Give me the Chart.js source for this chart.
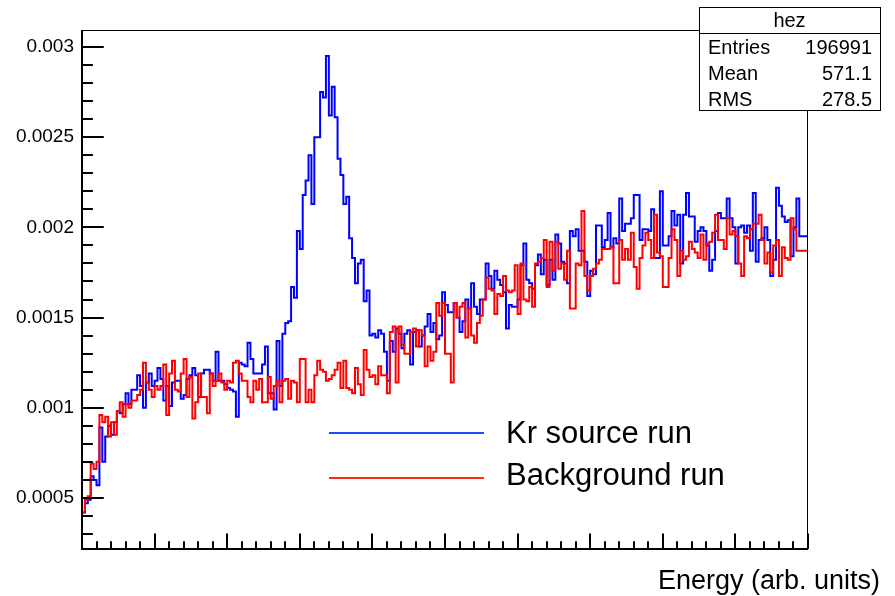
<!DOCTYPE html>
<html>
<head>
<meta charset="utf-8">
<title>hez</title>
<script src="https://cdn.jsdelivr.net/npm/chart.js@4.4.0/dist/chart.umd.min.js"></script>
<style>
  html, body { margin: 0; padding: 0; background: #fff; }
  #wrap { width: 895px; height: 596px; }
</style>
</head>
<body>
<div id="wrap"><canvas id="hezChart" width="895" height="596"></canvas></div>
<script>
// energy axis: 250 bins from 0 to 1000
const xMin = 0;
const xMax = 1000;
const xMajorStep = 100;
const xMinorStep = 20;

// normalised bin contents, Kr source run
const krSourceRun = [
  0.00034, 0.00042, 0.00047, 0.00049, 0.00062, 0.00060, 0.00057, 0.00089, 0.00070, 0.00084,
  0.00090, 0.00085, 0.00092, 0.00098, 0.00097, 0.00102, 0.00108, 0.00102, 0.00110, 0.00110,
  0.00118, 0.00112, 0.00100, 0.00114, 0.00119, 0.00112, 0.00115, 0.00122, 0.00116, 0.00104,
  0.00112, 0.00101, 0.00114, 0.00115, 0.00115, 0.00105, 0.00107, 0.00116, 0.00118, 0.00122,
  0.00118, 0.00106, 0.00119, 0.00121, 0.00121, 0.00119, 0.00115, 0.00131, 0.00115, 0.00115,
  0.00113, 0.00111, 0.00110, 0.00109, 0.00095, 0.00125, 0.00124, 0.00123, 0.00136, 0.00127,
  0.00119, 0.00119, 0.00119, 0.00124, 0.00134, 0.00108, 0.00108, 0.00099, 0.00137, 0.00112,
  0.00141, 0.00147, 0.00148, 0.00167, 0.00161, 0.00198, 0.00188, 0.00218, 0.00226, 0.00240,
  0.00213, 0.00250, 0.00250, 0.00275, 0.00272, 0.00295, 0.00262, 0.00278, 0.00261, 0.00238,
  0.00229, 0.00213, 0.00217, 0.00194, 0.00183, 0.00169, 0.00180, 0.00182, 0.00159, 0.00165,
  0.00140, 0.00141, 0.00139, 0.00143, 0.00141, 0.00131, 0.00115, 0.00137, 0.00131, 0.00144,
  0.00141, 0.00133, 0.00141, 0.00143, 0.00124, 0.00142, 0.00143, 0.00134, 0.00140, 0.00145,
  0.00152, 0.00142, 0.00147, 0.00138, 0.00140, 0.00164, 0.00157, 0.00153, 0.00153, 0.00158,
  0.00150, 0.00142, 0.00148, 0.00160, 0.00155, 0.00169, 0.00156, 0.00152, 0.00160, 0.00160,
  0.00180, 0.00173, 0.00166, 0.00176, 0.00171, 0.00168, 0.00164, 0.00144, 0.00157, 0.00156,
  0.00156, 0.00160, 0.00179, 0.00191, 0.00171, 0.00169, 0.00166, 0.00179, 0.00185, 0.00174,
  0.00182, 0.00168, 0.00182, 0.00171, 0.00196, 0.00191, 0.00181, 0.00180, 0.00169, 0.00198,
  0.00195, 0.00199, 0.00187, 0.00187, 0.00181, 0.00162, 0.00176, 0.00174, 0.00201, 0.00201,
  0.00189, 0.00193, 0.00208, 0.00189, 0.00194, 0.00191, 0.00216, 0.00198, 0.00202, 0.00202,
  0.00205, 0.00218, 0.00218, 0.00193, 0.00199, 0.00199, 0.00198, 0.00210, 0.00183, 0.00183,
  0.00220, 0.00190, 0.00190, 0.00195, 0.00209, 0.00201, 0.00207, 0.00180, 0.00207, 0.00219,
  0.00206, 0.00206, 0.00192, 0.00198, 0.00200, 0.00198, 0.00190, 0.00176, 0.00182, 0.00198,
  0.00208, 0.00205, 0.00205, 0.00216, 0.00205, 0.00200, 0.00180, 0.00200, 0.00201, 0.00197,
  0.00201, 0.00187, 0.00219, 0.00181, 0.00193, 0.00194, 0.00200, 0.00193, 0.00173, 0.00182,
  0.00222, 0.00212, 0.00206, 0.00203, 0.00204, 0.00184, 0.00200, 0.00216, 0.00195, 0.00195
];

// normalised bin contents, background run
const backgroundRun = [
  0.00033, 0.00042, 0.00049, 0.00051, 0.00069, 0.00066, 0.00070, 0.00096, 0.00092, 0.00095,
  0.00084, 0.00092, 0.00085, 0.00098, 0.00103, 0.00095, 0.00102, 0.00100, 0.00104, 0.00104,
  0.00107, 0.00110, 0.00125, 0.00114, 0.00110, 0.00106, 0.00112, 0.00110, 0.00112, 0.00124,
  0.00096, 0.00119, 0.00126, 0.00110, 0.00109, 0.00119, 0.00127, 0.00106, 0.00117, 0.00094,
  0.00103, 0.00119, 0.00106, 0.00106, 0.00097, 0.00119, 0.00112, 0.00115, 0.00119, 0.00114,
  0.00110, 0.00115, 0.00114, 0.00125, 0.00126, 0.00119, 0.00115, 0.00115, 0.00106, 0.00103,
  0.00115, 0.00110, 0.00116, 0.00103, 0.00103, 0.00117, 0.00105, 0.00112, 0.00115, 0.00103,
  0.00115, 0.00116, 0.00105, 0.00115, 0.00114, 0.00103, 0.00127, 0.00127, 0.00103, 0.00110,
  0.00103, 0.00118, 0.00126, 0.00121, 0.00120, 0.00115, 0.00116, 0.00118, 0.00121, 0.00125,
  0.00111, 0.00126, 0.00111, 0.00110, 0.00108, 0.00122, 0.00113, 0.00107, 0.00132, 0.00121,
  0.00117, 0.00118, 0.00113, 0.00123, 0.00118, 0.00118, 0.00108, 0.00142, 0.00145, 0.00114,
  0.00145, 0.00135, 0.00130, 0.00130, 0.00142, 0.00144, 0.00134, 0.00143, 0.00140, 0.00123,
  0.00134, 0.00126, 0.00131, 0.00158, 0.00151, 0.00158, 0.00130, 0.00130, 0.00114, 0.00158,
  0.00150, 0.00156, 0.00158, 0.00139, 0.00155, 0.00140, 0.00136, 0.00147, 0.00151, 0.00160,
  0.00172, 0.00166, 0.00165, 0.00152, 0.00163, 0.00162, 0.00173, 0.00165, 0.00164, 0.00165,
  0.00179, 0.00152, 0.00180, 0.00160, 0.00159, 0.00167, 0.00156, 0.00180, 0.00181, 0.00183,
  0.00193, 0.00167, 0.00192, 0.00176, 0.00192, 0.00177, 0.00180, 0.00171, 0.00187, 0.00155,
  0.00155, 0.00180, 0.00179, 0.00209, 0.00173, 0.00165, 0.00173, 0.00177, 0.00180, 0.00182,
  0.00188, 0.00188, 0.00188, 0.00189, 0.00169, 0.00169, 0.00193, 0.00182, 0.00188, 0.00182,
  0.00197, 0.00178, 0.00166, 0.00183, 0.00190, 0.00197, 0.00193, 0.00183, 0.00207, 0.00186,
  0.00184, 0.00167, 0.00167, 0.00183, 0.00199, 0.00193, 0.00173, 0.00187, 0.00182, 0.00184,
  0.00192, 0.00188, 0.00186, 0.00183, 0.00196, 0.00182, 0.00191, 0.00192, 0.00197, 0.00207,
  0.00193, 0.00193, 0.00188, 0.00205, 0.00196, 0.00198, 0.00195, 0.00180, 0.00173, 0.00195,
  0.00194, 0.00199, 0.00202, 0.00202, 0.00207, 0.00193, 0.00180, 0.00186, 0.00175, 0.00190,
  0.00193, 0.00173, 0.00189, 0.00183, 0.00182, 0.00205, 0.00199, 0.00187, 0.00187, 0.00187
];

const yTickValues = [0.0005, 0.001, 0.0015, 0.002, 0.0025, 0.003];
const yTickLabels = ["0.0005", "0.001", "0.0015", "0.002", "0.0025", "0.003"];
const yMinorStep = 0.0001;
const yMin = 0.000217;
const yMax = 0.003094;

const statsTitle = "hez";
const statsNames = ["Entries", "Mean", "RMS"];
const statsValues = ["196991", "571.1", "278.5"];
const legendLabels = ["Kr source run", "Background run"];
const xTitle = "Energy (arb. units)";

const FONT = "'Liberation Sans', Arial, Helvetica, sans-serif";

// turn bin contents into step points at the low edge of each bin
function toSteps(values) {
    const w = (xMax - xMin) / values.length;
    const pts = values.map((v, i) => ({ x: xMin + i * w, y: v }));
    pts.push({ x: xMax, y: values[values.length - 1] });
    return pts;
}

// ROOT style frame, inward ticks, stats box and legend
const rootDecor = {
    id: "rootDecor",
    afterDatasetsDraw(chart) {
        const ctx = chart.ctx;
        const a = chart.chartArea;
        const xs = chart.scales.x;
        const ys = chart.scales.y;
        ctx.save();
        ctx.strokeStyle = "#000";

        ctx.lineWidth = 1;
        ctx.strokeRect(a.left + 0.5, a.top + 0.5, a.right - a.left - 1, a.bottom - a.top);

        ctx.lineWidth = 2;
        ctx.beginPath();
        ctx.moveTo(a.left, a.top);
        ctx.lineTo(a.left, a.bottom);
        ctx.lineTo(a.right, a.bottom);
        ctx.stroke();

        // y ticks, length relative to the frame width
        const yLen = (a.right - a.left) * 0.03;
        ctx.lineWidth = 2;
        ctx.beginPath();
        for (let k = Math.ceil(yMin / yMinorStep); k * yMinorStep <= yMax; k++) {
            const py = Math.round(ys.getPixelForValue(k * yMinorStep));
            const len = k % 5 === 0 ? yLen : yLen / 2;
            ctx.moveTo(a.left, py);
            ctx.lineTo(a.left + len, py);
        }
        ctx.stroke();

        // x ticks
        const xLen = (a.bottom - a.top) * 0.03;
        ctx.beginPath();
        for (let v = xMin; v <= xMax; v += xMinorStep) {
            const px = Math.round(xs.getPixelForValue(v));
            const len = v % xMajorStep === 0 ? xLen : xLen / 2;
            ctx.moveTo(px, a.bottom);
            ctx.lineTo(px, a.bottom - len);
        }
        ctx.stroke();

        ctx.fillStyle = "#000";
        ctx.font = "27px " + FONT;
        ctx.textAlign = "right";
        ctx.textBaseline = "alphabetic";
        ctx.fillText(xTitle, 880, 589);

        // legend
        const legendColors = ["#1f48ff", "#ff2a12"];
        const legendY = [433, 478];
        const textBase = [443, 485];
        ctx.lineWidth = 2;
        ctx.font = "31px " + FONT;
        ctx.textAlign = "left";
        legendLabels.forEach((label, i) => {
            ctx.strokeStyle = legendColors[i];
            ctx.beginPath();
            ctx.moveTo(329, legendY[i]);
            ctx.lineTo(484, legendY[i]);
            ctx.stroke();
            ctx.fillText(label, 506, textBase[i]);
        });

        // stats box
        const bx = 699, by = 7, bw = 181, bh = 103;
        ctx.fillStyle = "#fff";
        ctx.fillRect(bx, by, bw, bh);
        ctx.strokeStyle = "#000";
        ctx.lineWidth = 1;
        ctx.strokeRect(bx + 0.5, by + 0.5, bw, bh);
        ctx.beginPath();
        ctx.moveTo(bx, 33.5);
        ctx.lineTo(bx + bw, 33.5);
        ctx.stroke();
        ctx.fillStyle = "#000";
        ctx.font = "20px " + FONT;
        ctx.textBaseline = "middle";
        ctx.textAlign = "center";
        ctx.fillText(statsTitle, bx + bw / 2, 21);
        const rowY = [48, 74, 100];
        statsNames.forEach((name, i) => {
            ctx.textAlign = "left";
            ctx.fillText(name, 708, rowY[i]);
            ctx.textAlign = "right";
            ctx.fillText(statsValues[i], 872, rowY[i]);
        });
        ctx.restore();
    }
};

const ctx = document.getElementById("hezChart").getContext("2d");
new Chart(ctx, {
    type: "line",
    data: {
        datasets: [
            {
                label: legendLabels[0],
                data: toSteps(krSourceRun),
                borderColor: "#0000ff",
                borderWidth: 2,
                stepped: "after",
                pointRadius: 0,
                fill: false,
                order: 1
            },
            {
                // drawn over the Kr histogram, like a "same" overlay
                label: legendLabels[1],
                data: toSteps(backgroundRun),
                borderColor: "#ff0000",
                borderWidth: 2,
                stepped: "after",
                pointRadius: 0,
                fill: false,
                order: 0
            }
        ]
    },
    options: {
        responsive: false,
        animation: false,
        devicePixelRatio: 1,
        layout: { padding: { top: 30, right: 87, left: 0, bottom: 0 } },
        plugins: {
            legend: { display: false },
            tooltip: { enabled: false }
        },
        scales: {
            x: {
                type: "linear",
                min: xMin,
                max: xMax,
                grid: { display: false, drawTicks: false },
                border: { display: false },
                ticks: { display: false },
                afterFit(scale) { scale.height = 47; }
            },
            y: {
                type: "linear",
                min: yMin,
                max: yMax,
                grid: { display: false, drawTicks: false },
                border: { display: false },
                afterBuildTicks(scale) {
                    scale.ticks = yTickValues.map(v => ({ value: v }));
                },
                ticks: {
                    autoSkip: false,
                    padding: 8,
                    color: "#000",
                    font: { family: FONT, size: 19 },
                    callback(value) {
                        const i = yTickValues.findIndex(v => Math.abs(v - value) < 1e-9);
                        return i >= 0 ? yTickLabels[i] : "";
                    }
                },
                afterFit(scale) { scale.width = 82; }
            }
        }
    },
    plugins: [rootDecor]
});
</script>
</body>
</html>
